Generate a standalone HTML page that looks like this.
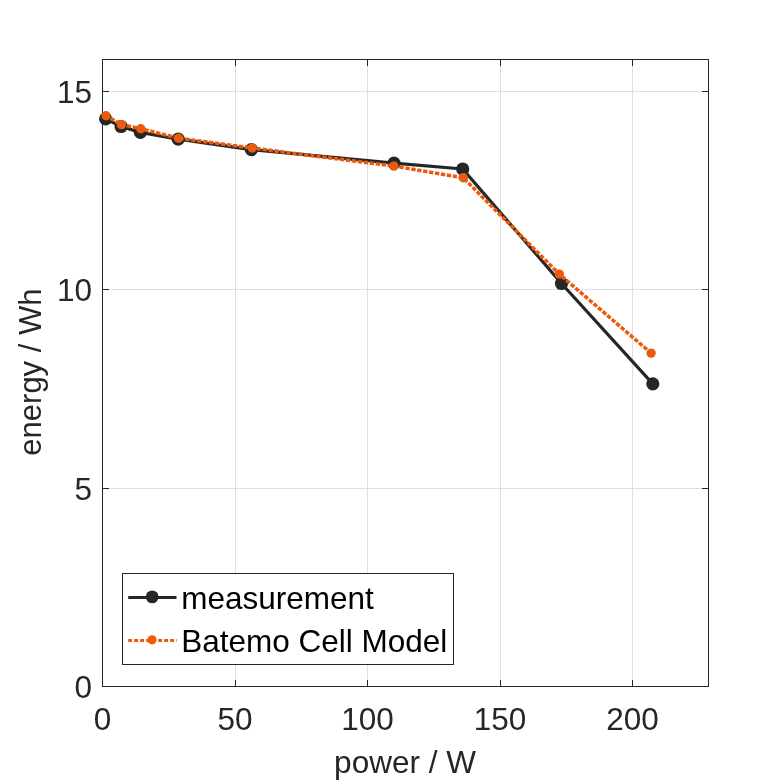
<!DOCTYPE html>
<html><head><meta charset="utf-8"><style>
html,body{margin:0;padding:0;background:#fff;width:781px;height:781px;overflow:hidden}
svg{display:block}
.t{font-family:"Liberation Sans",sans-serif;font-size:31.5px;fill:#262626}
</style></head><body>
<div style="will-change:transform"><svg width="781" height="781" viewBox="0 0 781 781">
<rect x="0" y="0" width="781" height="781" fill="#fff"/>
<line x1="235.5" y1="59.5" x2="235.5" y2="686.5" stroke="#dfdfdf" stroke-width="1"/>
<line x1="367.5" y1="59.5" x2="367.5" y2="686.5" stroke="#dfdfdf" stroke-width="1"/>
<line x1="500.5" y1="59.5" x2="500.5" y2="686.5" stroke="#dfdfdf" stroke-width="1"/>
<line x1="632.5" y1="59.5" x2="632.5" y2="686.5" stroke="#dfdfdf" stroke-width="1"/>
<line x1="102.5" y1="488.5" x2="708.5" y2="488.5" stroke="#dfdfdf" stroke-width="1"/>
<line x1="102.5" y1="289.5" x2="708.5" y2="289.5" stroke="#dfdfdf" stroke-width="1"/>
<line x1="102.5" y1="91.5" x2="708.5" y2="91.5" stroke="#dfdfdf" stroke-width="1"/>
<line x1="102.5" y1="686.5" x2="102.5" y2="680.0" stroke="#262626" stroke-width="1"/>
<line x1="102.5" y1="59.5" x2="102.5" y2="66.0" stroke="#262626" stroke-width="1"/>
<line x1="235.5" y1="686.5" x2="235.5" y2="680.0" stroke="#262626" stroke-width="1"/>
<line x1="235.5" y1="59.5" x2="235.5" y2="66.0" stroke="#262626" stroke-width="1"/>
<line x1="367.5" y1="686.5" x2="367.5" y2="680.0" stroke="#262626" stroke-width="1"/>
<line x1="367.5" y1="59.5" x2="367.5" y2="66.0" stroke="#262626" stroke-width="1"/>
<line x1="500.5" y1="686.5" x2="500.5" y2="680.0" stroke="#262626" stroke-width="1"/>
<line x1="500.5" y1="59.5" x2="500.5" y2="66.0" stroke="#262626" stroke-width="1"/>
<line x1="632.5" y1="686.5" x2="632.5" y2="680.0" stroke="#262626" stroke-width="1"/>
<line x1="632.5" y1="59.5" x2="632.5" y2="66.0" stroke="#262626" stroke-width="1"/>
<line x1="102.5" y1="686.5" x2="109.0" y2="686.5" stroke="#262626" stroke-width="1"/>
<line x1="708.5" y1="686.5" x2="702.0" y2="686.5" stroke="#262626" stroke-width="1"/>
<line x1="102.5" y1="488.5" x2="109.0" y2="488.5" stroke="#262626" stroke-width="1"/>
<line x1="708.5" y1="488.5" x2="702.0" y2="488.5" stroke="#262626" stroke-width="1"/>
<line x1="102.5" y1="289.5" x2="109.0" y2="289.5" stroke="#262626" stroke-width="1"/>
<line x1="708.5" y1="289.5" x2="702.0" y2="289.5" stroke="#262626" stroke-width="1"/>
<line x1="102.5" y1="91.5" x2="109.0" y2="91.5" stroke="#262626" stroke-width="1"/>
<line x1="708.5" y1="91.5" x2="702.0" y2="91.5" stroke="#262626" stroke-width="1"/>
<rect x="102.5" y="59.5" width="606.0" height="627.0" fill="none" stroke="#262626" stroke-width="1"/>
<polyline points="105.65,118.8 121.1,126.5 140.4,132.4 178.2,139.2 251.4,149.7 394,163.1 462.7,169 561.5,283.5 652.8,383.8" fill="none" stroke="#262626" stroke-width="3.2" stroke-linejoin="round"/>
<circle cx="105.65" cy="118.8" r="6.6" fill="#262626"/>
<circle cx="121.1" cy="126.5" r="6.6" fill="#262626"/>
<circle cx="140.4" cy="132.4" r="6.6" fill="#262626"/>
<circle cx="178.2" cy="139.2" r="6.6" fill="#262626"/>
<circle cx="251.4" cy="149.7" r="6.6" fill="#262626"/>
<circle cx="394" cy="163.1" r="6.6" fill="#262626"/>
<circle cx="462.7" cy="169" r="6.6" fill="#262626"/>
<circle cx="561.5" cy="283.5" r="6.6" fill="#262626"/>
<circle cx="652.8" cy="383.8" r="6.6" fill="#262626"/>
<polyline points="106,115.8 121.5,124.6 140.8,128.7 178.5,138.2 252.2,148 393.9,166.1 463.3,177.8 559.3,274.1 651.1,353.1" fill="none" stroke="#E95C0D" stroke-width="3.5" stroke-dasharray="4.4 1.6" stroke-dashoffset="0.75"/>
<circle cx="106" cy="115.8" r="4.7" fill="#E95C0D"/>
<circle cx="121.5" cy="124.6" r="4.7" fill="#E95C0D"/>
<circle cx="140.8" cy="128.7" r="4.7" fill="#E95C0D"/>
<circle cx="178.5" cy="138.2" r="4.7" fill="#E95C0D"/>
<circle cx="252.2" cy="148" r="4.7" fill="#E95C0D"/>
<circle cx="393.9" cy="166.1" r="4.7" fill="#E95C0D"/>
<circle cx="463.3" cy="177.8" r="4.7" fill="#E95C0D"/>
<circle cx="559.3" cy="274.1" r="4.7" fill="#E95C0D"/>
<circle cx="651.1" cy="353.1" r="4.7" fill="#E95C0D"/>
<text x="102.5" y="729.5" text-anchor="middle" class="t">0</text>
<text x="235.0" y="729.5" text-anchor="middle" class="t">50</text>
<text x="367.5" y="729.5" text-anchor="middle" class="t">100</text>
<text x="500.0" y="729.5" text-anchor="middle" class="t">150</text>
<text x="632.5" y="729.5" text-anchor="middle" class="t">200</text>
<text x="92" y="698" text-anchor="end" class="t">0</text>
<text x="92" y="500.3" text-anchor="end" class="t">5</text>
<text x="92" y="301.1" text-anchor="end" class="t">10</text>
<text x="92" y="103.2" text-anchor="end" class="t">15</text>
<text x="405" y="773" text-anchor="middle" class="t">power / W</text>
<text transform="translate(41,372.1) rotate(-90)" x="0" y="0" text-anchor="middle" class="t" style="font-size:31px">energy / Wh</text>
<rect x="122.5" y="573.5" width="331" height="91" fill="#fff" stroke="#262626" stroke-width="1"/>
<line x1="128.2" y1="597.5" x2="176.5" y2="597.5" stroke="#262626" stroke-width="3"/>
<circle cx="152.2" cy="596.9" r="6.4" fill="#262626"/>
<line x1="128.2" y1="640.5" x2="176.8" y2="640.5" stroke="#E95C0D" stroke-width="3" stroke-dasharray="3.9 2.1"/>
<circle cx="152" cy="639.8" r="4.6" fill="#E95C0D"/>
<text x="181.2" y="608.9" class="t" style="fill:#000">measurement</text>
<text x="181.2" y="651.7" class="t" style="fill:#000">Batemo Cell Model</text>
</svg></div>
</body></html>
